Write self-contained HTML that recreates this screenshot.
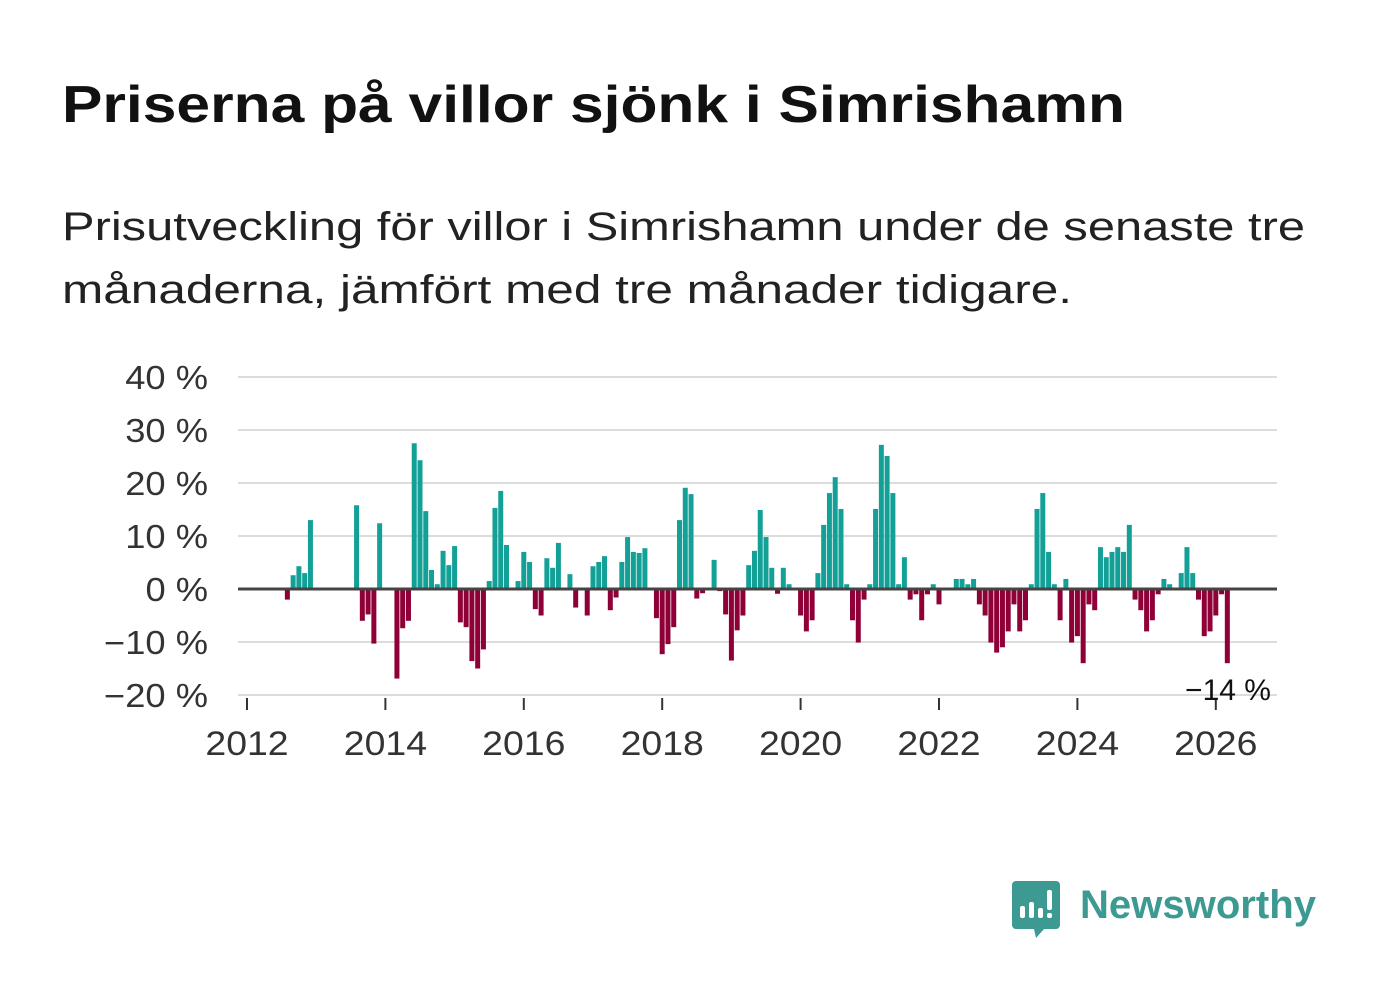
<!DOCTYPE html>
<html><head><meta charset="utf-8"><style>
html,body{margin:0;padding:0;background:#fff;}
svg{display:block;font-family:"Liberation Sans",sans-serif;}
</style></head><body>
<svg id="chart" width="1382" height="999" viewBox="0 0 1382 999">
<text x="62" y="122" font-size="52" font-weight="bold" fill="#111" textLength="1063" lengthAdjust="spacingAndGlyphs">Priserna på villor sjönk i Simrishamn</text>
<text x="62" y="240" font-size="40" fill="#222" textLength="1243" lengthAdjust="spacingAndGlyphs">Prisutveckling för villor i Simrishamn under de senaste tre</text>
<text x="62" y="303" font-size="40" fill="#222" textLength="1010" lengthAdjust="spacingAndGlyphs">månaderna, jämfört med tre månader tidigare.</text>
<g id="grid"></g><g id="bars"></g><g id="axes"></g>
<g>
<path d="M1016 881 h40 a4 4 0 0 1 4 4 v40 a4 4 0 0 1 -4 4 h-12 l-8 9 l-2 -9 h-18 a4 4 0 0 1 -4 -4 v-40 a4 4 0 0 1 4 -4z" fill="#3c9a92"/>
<rect x="1020" y="906" width="5" height="12" rx="2" fill="#fff"/><rect x="1029" y="902" width="5" height="16" rx="2" fill="#fff"/><rect x="1038" y="908" width="5" height="10" rx="2" fill="#fff"/><rect x="1047" y="890" width="5" height="20" rx="2" fill="#fff"/><rect x="1047" y="913" width="5" height="5" rx="2" fill="#fff"/>
<text x="1080" y="918" font-size="40" font-weight="bold" fill="#3c9a92" textLength="236" lengthAdjust="spacingAndGlyphs">Newsworthy</text>
</g>
</svg>
<script>
const values = [0,0,0,0,0,0,0,-2,2.6,4.3,3.0,13.0,0,0,0,0,0,0,0,15.8,-6.0,-4.8,-10.3,12.4,0,0,-16.9,-7.4,-6.0,27.5,24.3,14.7,3.6,0.9,7.2,4.5,8.1,-6.3,-7.2,-13.6,-15.0,-11.4,1.5,15.3,18.5,8.3,0,1.5,7.0,5.1,-3.8,-5.0,5.8,4.0,8.7,0,2.8,-3.5,-0.2,-5.0,4.3,5.1,6.2,-4.0,-1.6,5.1,9.8,7.0,6.8,7.7,0,-5.5,-12.3,-10.4,-7.2,13.0,19.1,17.9,-1.8,-0.8,0,5.5,-0.4,-4.8,-13.5,-7.8,-5.0,4.5,7.2,14.9,9.8,4.0,-0.9,4.0,0.9,0,-5.0,-8.0,-5.9,3.0,12.1,18.1,21.1,15.1,0.9,-5.9,-10.1,-2.0,0.9,15.1,27.2,25.1,18.1,0.9,6.0,-2.0,-1.0,-5.9,-1.0,0.9,-2.9,0,0,1.9,1.9,0.9,1.9,-2.9,-5.0,-10.1,-12.0,-11.0,-8.0,-2.9,-8.0,-5.9,0.9,15.1,18.1,7.0,0.9,-5.9,1.9,-10.1,-8.9,-14.0,-2.9,-4.0,7.9,6.0,7.0,7.9,7.0,12.1,-2.0,-4.0,-8.0,-5.9,-1.0,1.9,0.9,0,3.0,7.9,3.0,-2.0,-8.9,-8.0,-5.0,-1.0,-14.0];
const startYear = 2012;
const yTicks = [40,30,20,10,0,-10,-20];
const yTickLabels = ["40 %","30 %","20 %","10 %","0 %","−10 %","−20 %"];
const xTickYears = [2012,2014,2016,2018,2020,2022,2024,2026];
const lastLabel = "−14 %";

const NS="http://www.w3.org/2000/svg";
const y = v => 589 - v*5.3;
const x = m => 247 + m*(69.2/12);
function mk(tag, attrs, parent){const e=document.createElementNS(NS,tag);for(const k in attrs)e.setAttribute(k,attrs[k]);parent.appendChild(e);return e;}
function widen(el,f){const w=el.getComputedTextLength();el.setAttribute('textLength',w*f);el.setAttribute('lengthAdjust','spacingAndGlyphs');}
const grid=document.getElementById('grid'), bars=document.getElementById('bars'), axes=document.getElementById('axes');
yTicks.forEach((t,i)=>{
  if(t!==0){const l=mk('line',{x1:238,x2:1277,y1:y(t),y2:y(t),stroke:'#dcdcdc','stroke-width':2},grid);
  
  }
  const tx=mk('text',{x:208,y:y(t)+12,'font-size':33,fill:'#333','text-anchor':'end'},axes);
  tx.textContent=yTickLabels[i];
  
  
  widen(tx,1.1);
});
values.forEach((v,i)=>{
  if(!v) return;
  const r=mk('rect',{x:x(i)-2.5,width:5,y:Math.min(y(v),y(0)),height:Math.abs(y(v)-y(0)),fill:v>0?'#13a097':'#8e0037'},bars);
  
  
});
const z=mk('line',{x1:238,x2:1277,y1:y(0),y2:y(0),stroke:'#444','stroke-width':3},axes);


xTickYears.forEach(yr=>{
  const px=x((yr-startYear)*12);
  const t=mk('line',{x1:px,x2:px,y1:698,y2:710,stroke:'#333','stroke-width':2},axes);
  
  
  const tx=mk('text',{x:px,y:755,'font-size':34,fill:'#333','text-anchor':'middle'},axes);
  tx.textContent=yr;
  
  
  widen(tx,1.1);
});
const lt=mk('text',{x:1228,y:700,'font-size':30,fill:'#111','text-anchor':'middle'},axes);
lt.textContent=lastLabel;


</script>
</body></html>
